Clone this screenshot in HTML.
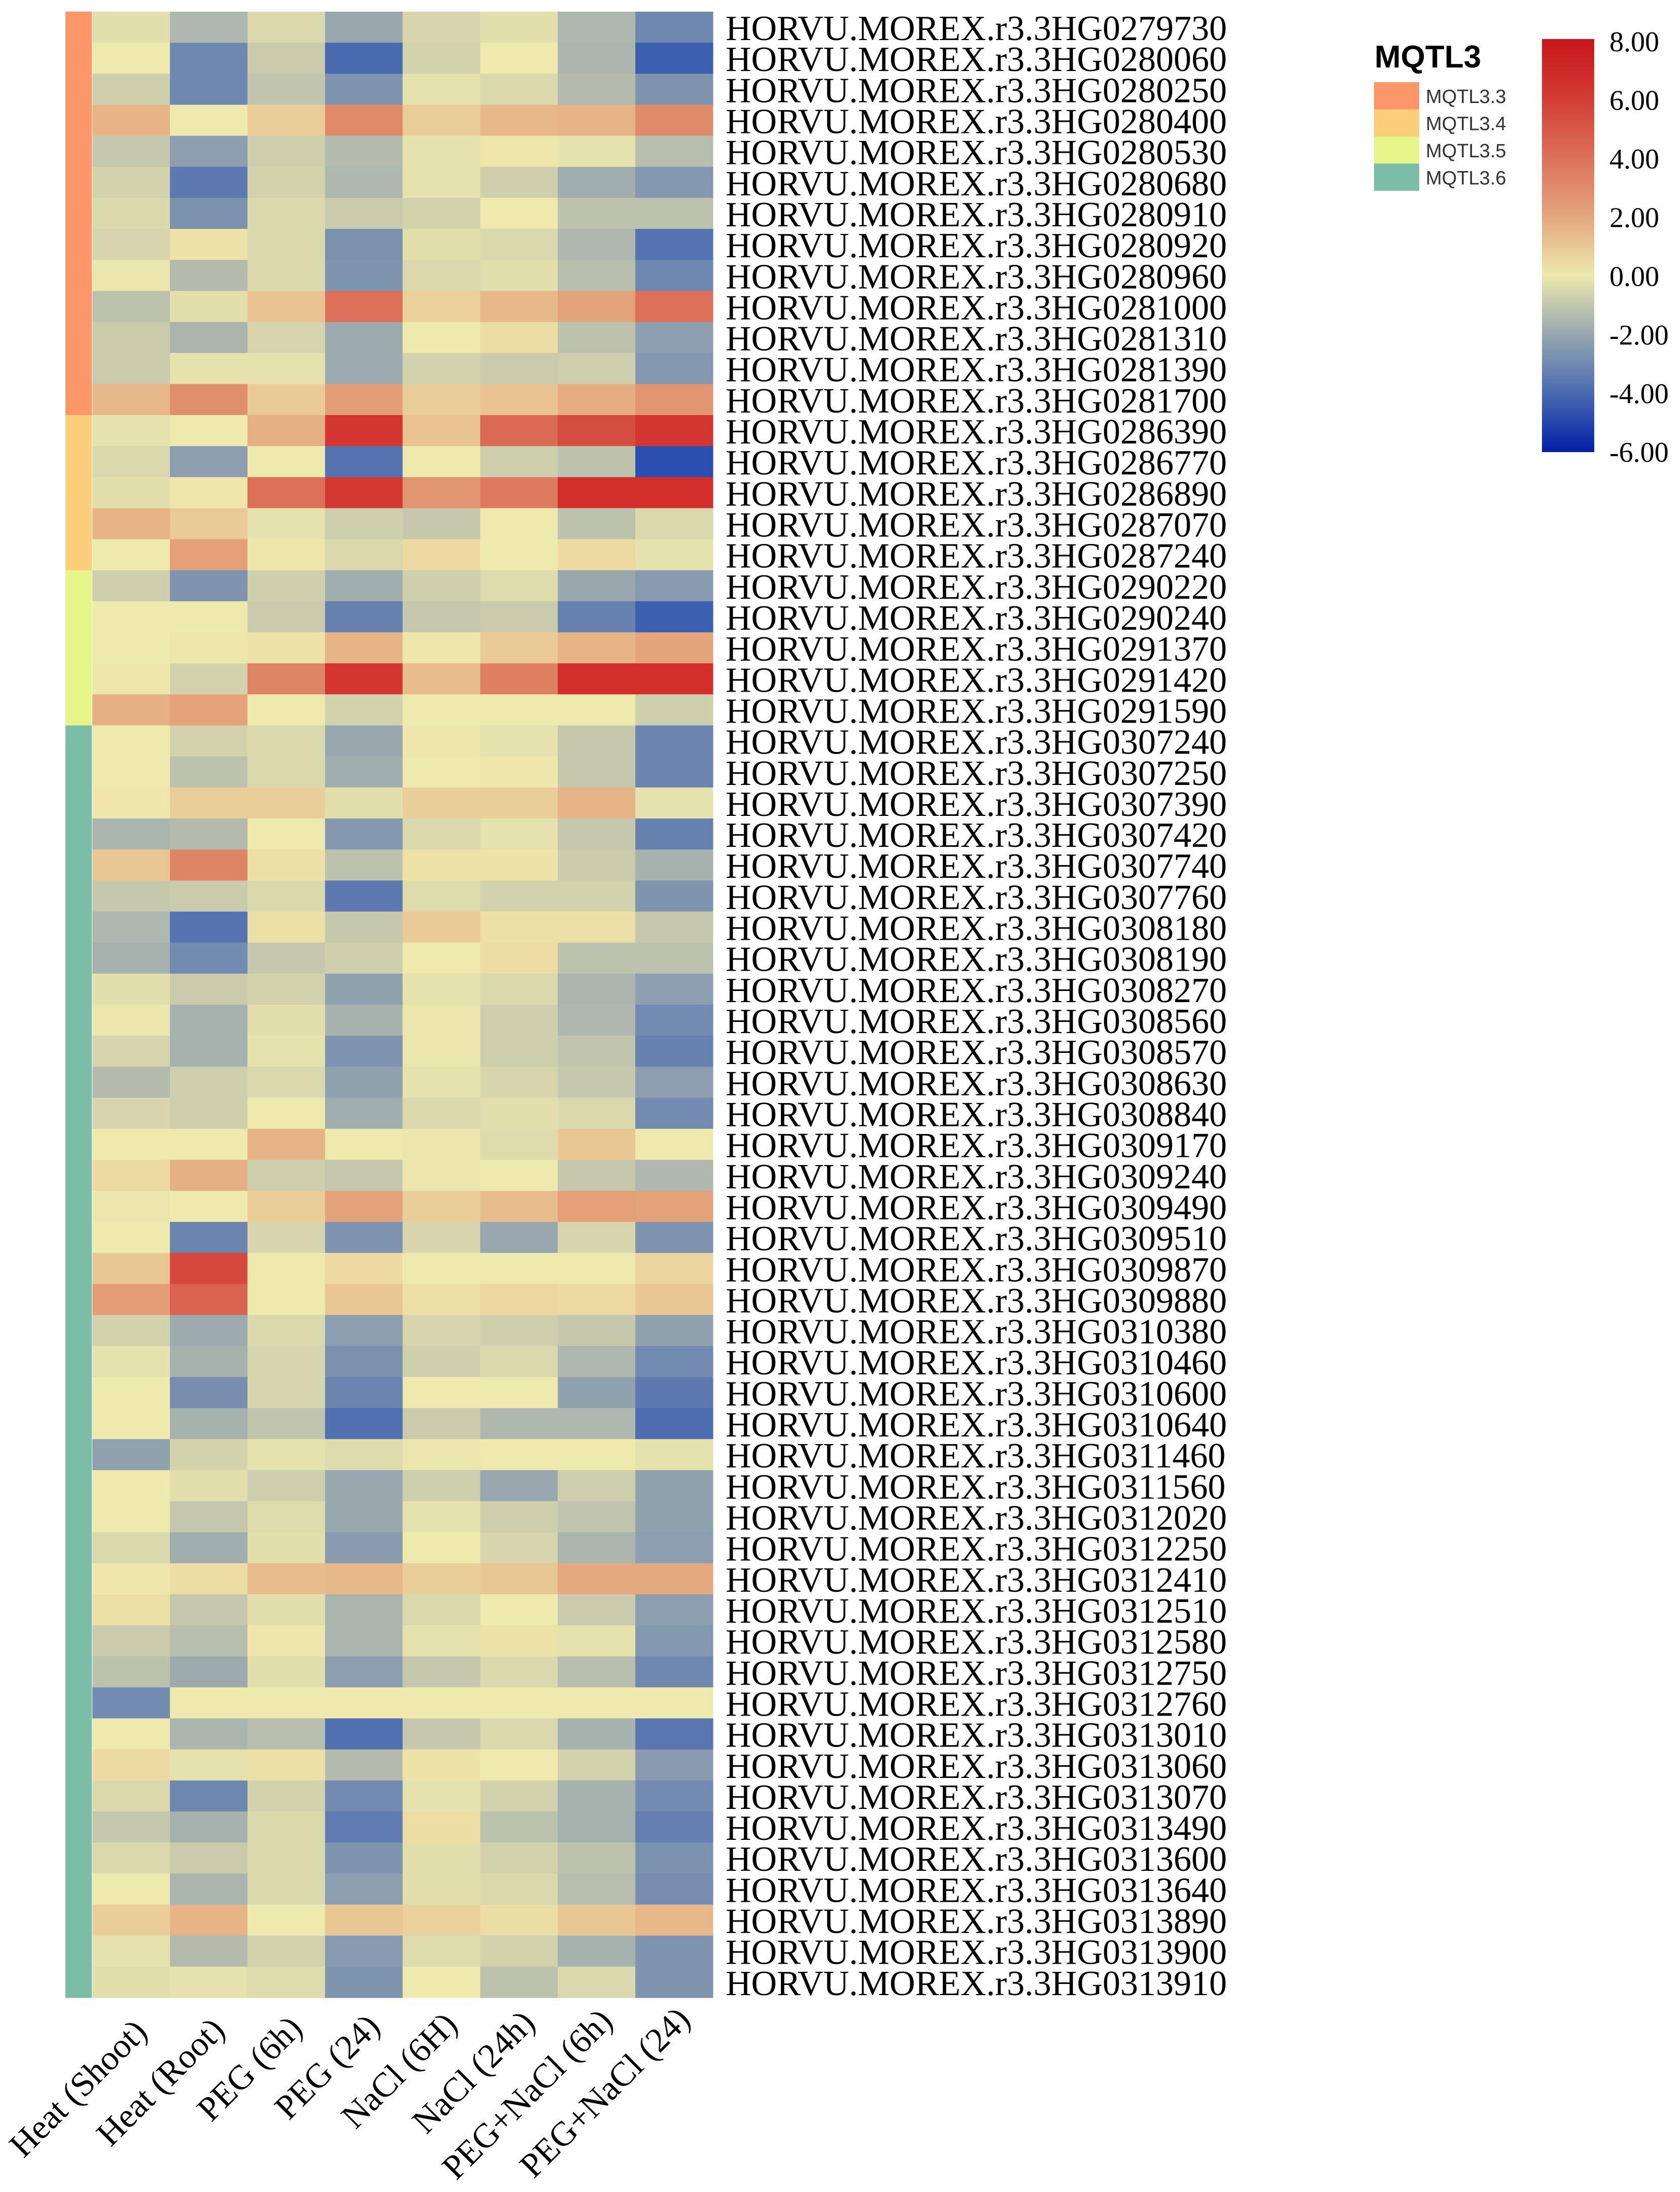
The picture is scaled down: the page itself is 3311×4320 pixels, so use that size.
<!DOCTYPE html>
<html><head><meta charset="utf-8">
<style>html,body{margin:0;padding:0;background:#fff;}svg{display:block;}</style>
</head><body>
<svg id="chart" width="3311" height="4320" viewBox="0 0 3311 4320" xmlns="http://www.w3.org/2000/svg">
<defs>
<linearGradient id="cbar" x1="0" y1="1" x2="0" y2="0">
<stop offset="0" stop-color="#0020a8"/>
<stop offset="0.1429" stop-color="#4a6ab0"/>
<stop offset="0.2857" stop-color="#98a8ae"/>
<stop offset="0.4286" stop-color="#eee9ad"/>
<stop offset="0.5714" stop-color="#e4a57d"/>
<stop offset="0.7143" stop-color="#dc7059"/>
<stop offset="0.8571" stop-color="#d33c35"/>
<stop offset="1" stop-color="#c8161c"/>
</linearGradient>
</defs>
<g id="cells"></g>
<g id="annot"></g>
<g id="rowlabels"></g>
<g id="collabels"></g>
<g>
<text x="2709" y="133" font-family="Liberation Sans, sans-serif" font-weight="bold" font-size="62">MQTL3</text>
<g id="glegend"></g>
</g>
<g>
<rect x="3039" y="77" width="103" height="814" fill="url(#cbar)"/>
<g id="cticks"></g>
</g>
</svg>
<script>
const NS = "http://www.w3.org/2000/svg";
const conditions = ["Heat (Shoot)","Heat (Root)","PEG (6h)","PEG (24)","NaCl (6H)","NaCl (24h)","PEG+NaCl (6h)","PEG+NaCl (24)"];
const genes = ["0279730","0280060","0280250","0280400","0280530","0280680","0280910","0280920","0280960","0281000","0281310","0281390","0281700","0286390","0286770","0286890","0287070","0287240","0290220","0290240","0291370","0291420","0291590","0307240","0307250","0307390","0307420","0307740","0307760","0308180","0308190","0308270","0308560","0308570","0308630","0308840","0309170","0309240","0309490","0309510","0309870","0309880","0310380","0310460","0310600","0310640","0311460","0311560","0312020","0312250","0312410","0312510","0312580","0312750","0312760","0313010","0313060","0313070","0313490","0313600","0313640","0313890","0313900","0313910"];
const groupNames = ["MQTL3.3","MQTL3.4","MQTL3.5","MQTL3.6"];
const groupCounts = [13,5,5,41];
const groupColors = ["#fe9768","#fdce7a","#e6f58a","#7bbea8"];
const scaleTicks = [8,6,4,2,0,-2,-4,-6];
const values = [
[-0.3,-1.5,-0.5,-2,-0.6,-0.3,-1.5,-3],
[0,-3,-0.9,-4,-0.7,0,-1.6,-4.4],
[-0.8,-3,-1.1,-2.6,-0.2,-0.5,-1.4,-2.6],
[1.6,0,0.9,3,0.9,1.5,1.6,3],
[-1,-2.3,-0.8,-1.4,-0.2,0.1,-0.2,-1.3],
[-0.7,-3.5,-0.7,-1.5,-0.2,-0.8,-1.8,-2.5],
[-0.5,-2.7,-0.5,-0.9,-0.7,0,-1.2,-1.2],
[-0.6,0.2,-0.5,-2.7,-0.3,-0.5,-1.5,-3.7],
[-0.1,-1.4,-0.5,-2.6,-0.5,-0.3,-1.3,-3],
[-1.2,-0.3,1.2,4,0.8,1.5,2.1,4],
[-0.9,-1.6,-0.6,-1.9,0,0.4,-1.2,-2.3],
[-0.9,-0.2,-0.2,-1.9,-0.7,-0.9,-0.8,-2.5],
[1.5,2.8,1,2.3,0.9,1.2,1.8,2.6],
[-0.2,0,1.7,6.5,1.2,4.2,5.3,6.5],
[-0.5,-2.3,0,-3.7,0,-0.8,-1.2,-5],
[-0.3,0.1,4,6.3,2.6,3.6,7,7],
[1.6,1,-0.2,-0.8,-1,0,-1.2,-0.5],
[0,2.2,0.1,-0.5,0.5,0,0.5,-0.2],
[-0.8,-2.6,-0.8,-1.8,-0.8,-0.4,-2,-2.4],
[0,0,-0.9,-3.2,-1,-0.9,-3.2,-4.4],
[0,0.1,0.2,1.6,0.1,1,1.6,2],
[0.1,-0.7,3.2,6.5,1.4,3.4,7,7],
[1.7,2.1,0,-0.7,0,0,0,-0.8],
[0,-0.7,-0.5,-2,0.1,-0.2,-1,-3.1],
[0,-1.2,-0.5,-1.8,0,0.1,-1,-3.1],
[0.1,0.9,0.9,-0.3,0.9,0.9,1.6,-0.2],
[-1.6,-1.4,0,-2.5,-0.5,-0.2,-1,-3.2],
[1.1,3.2,0.3,-1.2,0.2,0.2,-0.9,-1.7],
[-1,-0.9,-0.5,-3.5,-0.4,-0.7,-0.7,-2.6],
[-1.5,-3.7,0.3,-1,1,0.3,0.3,-1],
[-1.7,-2.9,-1,-0.8,0,0.4,-1.2,-1.2],
[-0.3,-0.9,-0.7,-2.2,-0.2,-0.5,-1.6,-2.3],
[-0.1,-1.7,-0.3,-1.7,-0.1,-0.8,-1.5,-2.9],
[-0.6,-1.7,-0.2,-2.6,-0.1,-0.8,-1.1,-3.2],
[-1.4,-0.8,-0.5,-2.2,-0.2,-0.6,-1,-2.3],
[-0.6,-0.8,0,-1.8,-0.5,-0.3,-0.5,-2.9],
[0,0,1.6,0,-0.1,-0.4,1.1,0],
[0.5,1.7,-0.8,-1,-0.1,0,-1,-1.5],
[-0.1,0,0.9,2.1,0.9,1.4,2.2,2.1],
[0,-3.1,-0.6,-2.6,-0.6,-2,-0.6,-2.6],
[1.1,5.5,0,0.5,0,0,0,0.7],
[2.3,4.5,0,1.1,0.3,0.6,0.5,1.1],
[-0.7,-1.9,-0.5,-2.3,-0.6,-0.8,-1,-2.2],
[-0.2,-1.7,-0.6,-2.7,-0.8,-0.5,-1.5,-2.9],
[0,-2.8,-0.6,-3.1,0,0,-2.2,-3.5],
[0,-1.7,-1.1,-3.8,-0.9,-1.5,-1.5,-3.9],
[-2.2,-0.7,-0.2,-0.4,-0.1,0,0,-0.2],
[0,-0.3,-0.8,-2,-0.8,-2,-0.8,-2.2],
[0,-1,-0.4,-2,-0.2,-0.8,-1.1,-2.2],
[-0.5,-1.8,-0.3,-2.4,0,-0.6,-1.6,-2.3],
[0.1,0.4,1.4,1.5,0.9,1.1,1.9,1.9],
[0.3,-1,-0.3,-1.6,-0.5,0,-0.9,-2.3],
[-0.9,-1.3,0.1,-1.6,-0.2,0.2,-0.2,-2.5],
[-1.2,-1.9,-0.3,-2.3,-1,-0.5,-1.3,-3],
[-2.9,0,0,0,0,0,0,0],
[0,-1.6,-1.3,-3.8,-1,-0.5,-1.7,-3.6],
[0.5,-0.2,0.3,-1.4,0.2,0,-0.7,-2.4],
[-0.5,-3,-0.7,-2.9,-0.2,-0.7,-1.7,-2.9],
[-1,-1.7,-0.5,-3.4,0.4,-1.2,-1.7,-3.3],
[-0.5,-0.9,-0.5,-2.6,-0.3,-0.7,-1.2,-2.7],
[0,-1.6,-0.5,-2.3,-0.3,-0.5,-1.3,-2.8],
[0.9,1.6,0,1.1,0.8,0.4,1.1,1.5],
[-0.2,-1.4,-0.7,-2.4,-0.4,-0.7,-1.7,-2.6],
[-0.3,-0.2,-0.4,-2.6,0,-1.2,-0.5,-2.6]
];

const X0 = 182, X1 = 1405, Y0 = 23, Y1 = 3937;
const colW = (X1 - X0) / conditions.length;
const rowH = (Y1 - Y0) / genes.length;
const xPos = i => X0 + i * colW;
const yPos = j => Y0 + j * rowH;
const VMIN = -6, VMAX = 8, CB_TOP = 82, CB_BOT = 891;
const yScale = v => CB_BOT - (v - VMIN) / (VMAX - VMIN) * (CB_BOT - CB_TOP);

const stops = [[-6,"#0020a8"],[-5,"#2a4fb0"],[-4,"#4a6ab0"],[-3,"#6f88b0"],[-2,"#98a8ae"],[-1,"#c6c8ad"],[0,"#eee9ad"],[1,"#eacb97"],[2,"#e4a57d"],[3,"#df8a68"],[4,"#dc7059"],[5,"#d65446"],[6,"#d33c35"],[7,"#d22f2c"],[8,"#c8161c"]];
function hex(c){return [1,3,5].map(i=>parseInt(c.substr(i,2),16));}
function color(v){
  v = Math.max(VMIN, Math.min(VMAX, v));
  for (let k = 0; k < stops.length - 1; k++) {
    const [a, ca] = stops[k], [b, cb] = stops[k+1];
    if (v >= a && v <= b) {
      const t = (v - a) / (b - a), A = hex(ca), B = hex(cb);
      return "rgb(" + A.map((x,i)=>Math.round(x + (B[i]-x)*t)).join(",") + ")";
    }
  }
  return stops[stops.length-1][1];
}
function mk(tag, attrs, parent){
  const el = document.createElementNS(NS, tag);
  for (const k in attrs) el.setAttribute(k, attrs[k]);
  parent.appendChild(el);
  return el;
}

const gCells = document.getElementById("cells");
values.forEach((row, j) => {
  row.forEach((v, i) => {
    const r = mk("rect", {x: xPos(i), y: yPos(j), width: colW + 0.6, height: rowH + 0.6, fill: color(v)}, gCells);
    
    
  });
});

const gAnnot = document.getElementById("annot");
let start = 0;
groupCounts.forEach((n, g) => {
  const r = mk("rect", {x: 129, y: yPos(start), width: 52, height: n * rowH + 0.5, fill: groupColors[g]}, gAnnot);
  
  
  start += n;
});

const gRow = document.getElementById("rowlabels");
genes.forEach((g, j) => {
  const t = mk("text", {x: 1430, y: yPos(j) + 56, "font-family": "Liberation Serif, serif", "font-size": 70, fill: "#000"}, gRow);
  t.textContent = "HORVU.MOREX.r3.3HG" + g;
  
  
});

const gCol = document.getElementById("collabels");
conditions.forEach((c, i) => {
  const x = xPos(i) + colW / 2 + 35, y = 4008 - i * 3.5;
  const t = mk("text", {x: x, y: y, "text-anchor": "end", "font-family": "Liberation Serif, serif", "font-size": 68, fill: "#000", transform: "rotate(-45 " + x + " " + y + ")"}, gCol);
  t.textContent = c;
  
  
});

const gLeg = document.getElementById("glegend");
groupNames.forEach((n, g) => {
  const y = 162 + g * 53.5;
  const r = mk("rect", {x: 2708, y: y, width: 89, height: 53.5, fill: groupColors[g]}, gLeg);
  
  
  const t = mk("text", {x: 2810, y: y + 41, "font-family": "Liberation Sans, sans-serif", "font-size": 38, fill: "#333"}, gLeg);
  t.textContent = n;
  
  
});

const gT = document.getElementById("cticks");
scaleTicks.forEach(v => {
  const t = mk("text", {x: 3172, y: yScale(v) + 19, "font-family": "Liberation Serif, serif", "font-size": 56, fill: "#000"}, gT);
  t.textContent = v.toFixed(2);
  
  
});
</script>
</body></html>
